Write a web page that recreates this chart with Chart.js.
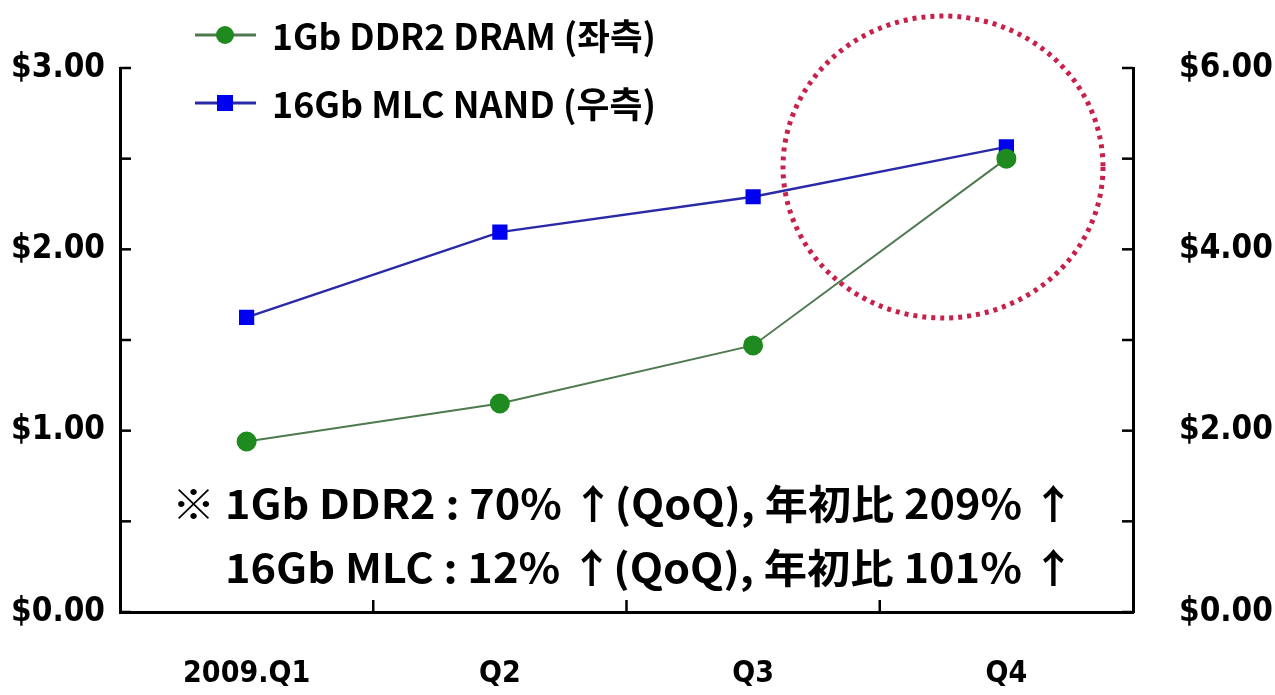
<!DOCTYPE html>
<html>
<head>
<meta charset="utf-8">
<script src="https://cdn.jsdelivr.net/npm/chart.js@4.4.1/dist/chart.umd.min.js"></script>
<style>
html,body{margin:0;padding:0;background:#fff;}
#wrap{position:relative;width:1275px;height:695px;}
</style>
</head>
<body>
<div id="wrap"><canvas id="c" width="1275" height="695"></canvas></div>
<script>
const categories = ['2009.Q1', 'Q2', 'Q3', 'Q4'];
const dramLabel = '1Gb DDR2 DRAM (좌측)';
const nandLabel = '16Gb MLC NAND (우측)';
const dramValues = [0.94, 1.15, 1.47, 2.50];
const nandValues = [3.25, 4.19, 4.58, 5.13];
const leftTicksMax = 3;
const rightTicksMax = 6;
const noteLines = ['※ 1Gb DDR2 : 70% ↑(QoQ), 年初比 209% ↑', '16Gb MLC : 12% ↑(QoQ), 年初比 101% ↑'];

function fitText(ctx, text, x, y, targetW, font) {
  ctx.save();
  ctx.font = font;
  const w = ctx.measureText(text).width;
  const s = targetW / w;
  ctx.textBaseline = 'middle';
  ctx.textAlign = 'left';
  ctx.translate(x, y);
  ctx.scale(s, 1);
  ctx.fillText(text, 0, 0);
  ctx.restore();
}

const decor = {
  id: 'decor',
  afterDraw(chart) {
    const ctx = chart.ctx;
    const ca = chart.chartArea;
    const yl = chart.scales.yL, yr = chart.scales.yR, x = chart.scales.x;
    ctx.save();
    ctx.strokeStyle = '#000';
    ctx.lineWidth = 2.5;
    yl.ticks.forEach((t, i) => {
      const p = yl.getPixelForTick(i);
      ctx.beginPath(); ctx.moveTo(ca.left, p); ctx.lineTo(ca.left + 11, p); ctx.stroke();
    });
    yr.ticks.forEach((t, i) => {
      const p = yr.getPixelForTick(i);
      ctx.beginPath(); ctx.moveTo(ca.right, p); ctx.lineTo(ca.right - 11, p); ctx.stroke();
    });
    for (let i = 0; i < categories.length - 1; i++) {
      const p = (x.getPixelForValue(i) + x.getPixelForValue(i + 1)) / 2;
      ctx.beginPath(); ctx.moveTo(p, ca.bottom); ctx.lineTo(p, ca.bottom - 12); ctx.stroke();
    }
    // legend
    const ds = chart.data.datasets;
    const rows = [35, 103];
    ds.forEach((d, i) => {
      const y = rows[i];
      ctx.strokeStyle = d.borderColor; ctx.lineWidth = 3;
      ctx.beginPath(); ctx.moveTo(195, y); ctx.lineTo(256, y); ctx.stroke();
      ctx.fillStyle = d.pointBackgroundColor;
      if (d.pointStyle === 'rect') { ctx.fillRect(217, y - 8, 16, 16); }
      else { ctx.beginPath(); ctx.arc(225, y, 9, 0, Math.PI * 2); ctx.fill(); }
      ctx.fillStyle = '#000';
      fitText(ctx, d.label, 272, y + 1, 384, 'bold 36px "Noto Sans CJK KR", sans-serif');
    });
    // notes
    ctx.fillStyle = '#000';
    fitText(ctx, noteLines[0], 172, 504, 903, 'bold 40px "Noto Sans CJK KR", sans-serif');
    fitText(ctx, noteLines[1], 225, 568, 850, 'bold 40px "Noto Sans CJK KR", sans-serif');
    // dotted circle
    const cx = ca.left + (943 - 120) / 1013 * (ca.right - ca.left);
    const cy = ca.top + (167 - 68) / 544 * (ca.bottom - ca.top);
    ctx.strokeStyle = '#c8204a';
    ctx.lineWidth = 5;
    ctx.setLineDash([4, 5]);
    ctx.beginPath(); ctx.ellipse(cx, cy, 160, 151, 0, 0, Math.PI * 2); ctx.stroke();
    ctx.restore();
  }
};

const tickFont = { family: '"DejaVu Sans Condensed", "DejaVu Sans"', weight: 'bold', size: 33 };

new Chart(document.getElementById('c'), {
  type: 'line',
  data: {
    labels: categories,
    datasets: [
      { label: dramLabel, data: dramValues, yAxisID: 'yL', borderColor: '#4f7a4f', borderWidth: 2,
        pointBackgroundColor: '#1f8a1f', pointBorderColor: '#1f8a1f', pointStyle: 'circle', pointRadius: 9, tension: 0 },
      { label: nandLabel, data: nandValues, yAxisID: 'yR', borderColor: '#2a2aa8', borderWidth: 2.5,
        pointBackgroundColor: '#0000f0', pointBorderColor: '#0000f0', pointStyle: 'rect', pointRadius: 9, tension: 0 }
    ]
  },
  options: {
    responsive: false,
    animation: false,
    layout: { padding: { top: 68, left: 0, right: 0, bottom: 0 } },
    plugins: { legend: { display: false }, tooltip: { enabled: false } },
    scales: {
      x: {
        offset: true,
        grid: { display: false, offset: true },
        border: { display: true, color: '#000', width: 3 },
        ticks: { color: '#000', font: { family: '"DejaVu Sans Condensed", "DejaVu Sans"', weight: 'bold', size: 30 }, padding: 36, maxRotation: 0 },
        afterFit(s) { s.height = 83; }
      },
      yL: {
        position: 'left', min: 0, max: leftTicksMax,
        grid: { display: false },
        border: { display: true, color: '#000', width: 3 },
        ticks: { stepSize: 0.5, color: '#000', padding: 7, font: tickFont,
          callback: v => Number.isInteger(v) ? '$' + v.toFixed(2) : '' },
        afterFit(s) { s.width = 120; }
      },
      yR: {
        position: 'right', min: 0, max: rightTicksMax,
        grid: { display: false },
        border: { display: true, color: '#000', width: 3 },
        ticks: { stepSize: 1, color: '#000', padding: 38, font: tickFont,
          callback: v => (v % 2 === 0) ? '$' + v.toFixed(2) : '' },
        afterFit(s) { s.width = 142; }
      }
    }
  },
  plugins: [decor]
});
</script>
</body>
</html>
